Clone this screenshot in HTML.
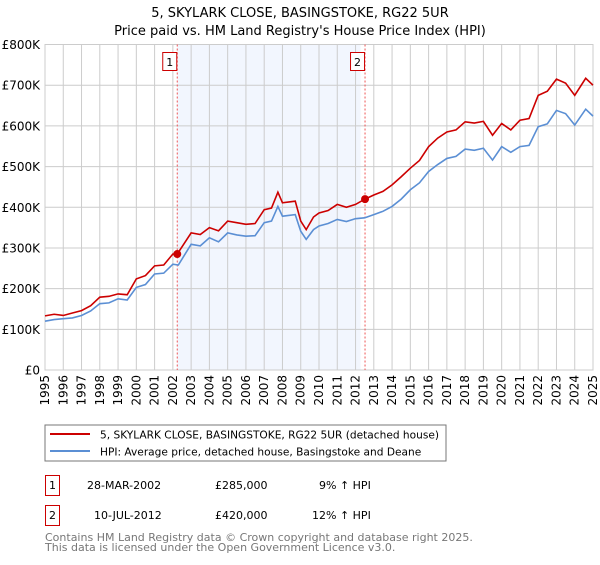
<!DOCTYPE html>
<html><head><meta charset="utf-8"><style>
body{margin:0;background:#fff;font-family:"Liberation Sans","DejaVu Sans",sans-serif;}
svg text{font-family:"DejaVu Sans","Liberation Sans",sans-serif;}
</style></head><body>
<svg id="chart" width="600" height="560" xmlns="http://www.w3.org/2000/svg">
<text x="300" y="17" text-anchor="middle" font-size="13">5, SKYLARK CLOSE, BASINGSTOKE, RG22 5UR</text>
<text x="300" y="35" text-anchor="middle" font-size="13">Price paid vs. HM Land Registry's House Price Index (HPI)</text>
<g id="plot"></g>
<rect x="45" y="425" width="401" height="36" fill="#fff" stroke="#777"/>
<line x1="50" y1="434" x2="90" y2="434" stroke="#cc0000" stroke-width="2"/>
<text x="100" y="438.5" font-size="10.6">5, SKYLARK CLOSE, BASINGSTOKE, RG22 5UR (detached house)</text>
<line x1="50" y1="451" x2="90" y2="451" stroke="#5b8fd4" stroke-width="2"/>
<text x="100" y="455.5" font-size="10.6">HPI: Average price, detached house, Basingstoke and Deane</text>
<g>
<rect x="45.5" y="475.5" width="14" height="20" fill="#fff" stroke="#cc0000"/>
<text x="52.5" y="489" font-size="11" text-anchor="middle">1</text>
<text x="87" y="489" font-size="11">28-MAR-2002</text>
<text x="215" y="489" font-size="11">£285,000</text>
<text x="319" y="489" font-size="11">9% ↑ HPI</text>
</g>
<g>
<rect x="45.5" y="505.5" width="14" height="20" fill="#fff" stroke="#cc0000"/>
<text x="52.5" y="519" font-size="11" text-anchor="middle">2</text>
<text x="94" y="519" font-size="11">10-JUL-2012</text>
<text x="215" y="519" font-size="11">£420,000</text>
<text x="312" y="519" font-size="11">12% ↑ HPI</text>
</g>
<text x="45" y="541" font-size="11" fill="#777">Contains HM Land Registry data © Crown copyright and database right 2025.</text>
<text x="45" y="551" font-size="11" fill="#777">This data is licensed under the Open Government Licence v3.0.</text>
</svg>
<script>
const years=[1995,1996,1997,1998,1999,2000,2001,2002,2003,2004,2005,2006,2007,2008,2009,2010,2011,2012,2013,2014,2015,2016,2017,2018,2019,2020,2021,2022,2023,2024,2025];
const yTicks=[0,100,200,300,400,500,600,700,800];
const yTickLabels=["£0","£100K","£200K","£300K","£400K","£500K","£600K","£700K","£800K"];
const hpiT=[1995,1995.5,1996,1996.5,1997,1997.5,1998,1998.5,1999,1999.5,2000,2000.5,2001,2001.5,2002,2002.3,2003,2003.5,2004,2004.5,2005,2005.5,2006,2006.5,2007,2007.4,2007.75,2008,2008.7,2009,2009.3,2009.7,2010,2010.5,2011,2011.5,2012,2012.5,2013,2013.5,2014,2014.5,2015,2015.5,2016,2016.5,2017,2017.5,2018,2018.5,2019,2019.5,2020,2020.5,2021,2021.5,2022,2022.5,2023,2023.5,2024,2024.6,2025];
const hpiV=[120,124,126,128,134,145,163,165,175,172,203,210,236,238,260,258,309,305,325,315,337,332,329,330,362,366,402,378,382,341,321,345,354,360,370,365,372,374,382,390,402,420,443,460,488,505,520,525,543,540,545,516,549,535,549,552,598,605,638,630,602,641,624];
const redT=[1995,1995.5,1996,1996.5,1997,1997.5,1998,1998.5,1999,1999.5,2000,2000.5,2001,2001.5,2002,2002.24,2003,2003.5,2004,2004.5,2005,2005.5,2006,2006.5,2007,2007.4,2007.75,2008,2008.7,2009,2009.3,2009.7,2010,2010.5,2011,2011.5,2012,2012.52,2013,2013.5,2014,2014.5,2015,2015.5,2016,2016.5,2017,2017.5,2018,2018.5,2019,2019.5,2020,2020.5,2021,2021.5,2022,2022.5,2023,2023.5,2024,2024.6,2025];
const redV=[133,137,134,140,146,158,179,181,187,185,224,232,256,258,285,285,337,333,350,342,366,362,358,360,394,398,437,411,415,366,345,376,386,392,407,400,407,420,430,439,455,475,496,515,549,570,585,590,610,607,611,577,606,590,614,618,675,685,715,705,675,717,700];
const sales=[{t:2002.24,v:285,label:"1"},{t:2012.52,v:420,label:"2"}];
const X0=45,X1=593,Y0=370,Y1=44.5;
const x=t=>X0+(t-1995)/(2025-1995)*(X1-X0);
const y=v=>Y0-v/800*(Y0-Y1);
const NS="http://www.w3.org/2000/svg";
const g=document.getElementById('plot');
function mk(tag,attrs,parent){const e=document.createElementNS(NS,tag);for(const k in attrs)e.setAttribute(k,attrs[k]);(parent||g).appendChild(e);return e;}
const shade=mk('rect',{x:x(sales[0].t),y:Y1,width:x(sales[1].t-0.25)-x(sales[0].t),height:Y0-Y1,fill:'#f2f6fe'});


years.forEach(yr=>{
 const l=mk('line',{x1:x(yr),x2:x(yr),y1:Y1,y2:Y0,stroke:'#cccccc','stroke-width':1});
 
 
 const t=mk('text',{transform:`translate(${x(yr)+4},${Y0+5}) rotate(-90)`,'text-anchor':'end','font-size':12});
 t.textContent=yr;
 
 
});
yTicks.forEach((v,i)=>{
 const l=mk('line',{x1:X0,x2:X1,y1:y(v),y2:y(v),stroke:'#cccccc','stroke-width':1});
 
 
 const t=mk('text',{x:40,y:y(v)+4.5,'text-anchor':'end','font-size':12});
 t.textContent=yTickLabels[i];
 
 
});
const frame=mk('rect',{x:X0,y:Y1,width:X1-X0,height:Y0-Y1,fill:'none',stroke:'#cccccc'});


sales.forEach(s=>{
 const l=mk('line',{x1:x(s.t),x2:x(s.t),y1:Y1,y2:Y0,stroke:'#ee5555','stroke-dasharray':'2,2','stroke-width':1});
 
 
 const b=mk('rect',{x:x(s.t)-14.5,y:52.5,width:14,height:18,fill:'#fff',stroke:'#cc0000'});
 
 
 const t=mk('text',{x:x(s.t)-7.5,y:66,'text-anchor':'middle','font-size':11});
 t.textContent=s.label;
 
 
});
const pb=mk('polyline',{points:hpiT.map((t,i)=>x(t)+','+y(hpiV[i])).join(' '),fill:'none',stroke:'#5b8fd4','stroke-width':1.6});


const pr=mk('polyline',{points:redT.map((t,i)=>x(t)+','+y(redV[i])).join(' '),fill:'none',stroke:'#cc0000','stroke-width':1.6});


sales.forEach(s=>{
 const c=mk('circle',{cx:x(s.t),cy:y(s.v),r:4,fill:'#cc0000'});
 
 
});
</script>
</body></html>
